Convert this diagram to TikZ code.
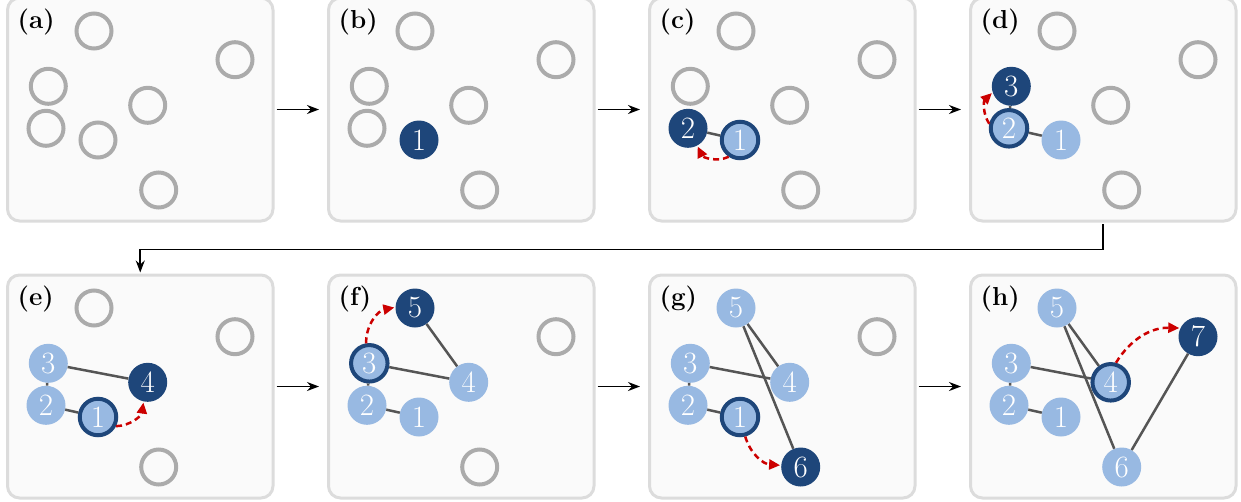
\documentclass[tikz,border=0pt]{standalone}
\usepackage{fontspec}
\usetikzlibrary{arrows.meta}
\definecolor{dkblue}{HTML}{1E467A}
\definecolor{ltblue}{HTML}{98B9E2}
\definecolor{ringgray}{HTML}{ABABAB}
\definecolor{panelfill}{HTML}{FAFAFA}
\definecolor{panelline}{HTML}{DCDCDC}
\definecolor{edgegray}{HTML}{555555}
\definecolor{redc}{HTML}{CC0000}
\def\Pone{90.5,140}
\def\Ptwo{38.5,128.3}
\def\Pthree{40.8,86.3}
\def\Pfour{140.2,105.3}
\def\Pfive{86.5,31}
\def\Psix{151.2,190}
\def\Pseven{227.5,59.7}
\newcommand\plabel[1]{\scalebox{1.3}{\fontsize{20}{20}\selectfont\bfseries #1}}
\tikzset{
  panelbox/.style={rectangle, rounded corners=12pt, fill=panelfill, draw=panelline, line width=3pt, minimum width=265.5pt, minimum height=223pt, inner sep=0pt},
  flow/.style={draw=black, line width=1.6pt, -{Stealth[length=12pt,width=9pt]}},
  lbl/.style={anchor=base west, inner sep=0pt},
  emptyc/.style={circle, draw=ringgray, line width=4pt, minimum size=35pt, inner sep=0pt},
  numfont/.style={font=\rmfamily\fontsize{31}{31}\selectfont, text=white, inner sep=0pt},
  curc/.style={circle, fill=dkblue, minimum size=39pt, numfont},
  visc/.style={circle, fill=ltblue, minimum size=39pt, numfont},
  ringc/.style={circle, fill=ltblue, draw=dkblue, line width=4pt, minimum size=36.5pt, numfont},
  edgeln/.style={draw=edgegray, line width=2.5pt},
  redarr/.style={draw=redc, line width=2.5pt, dash pattern=on 6pt off 4pt, -{Triangle[length=11pt,width=10pt]}, shorten >=1pt}
}
\begin{document}
\begin{tikzpicture}[x=1pt,y=-1pt]
\useasboundingbox (0,0) rectangle (1241,501);
% panel boxes
\node[panelbox] (A) at (140.25,109.5) {};
\node[panelbox] (B) at (461.25,109.5) {};
\node[panelbox] (C) at (782.25,109.5) {};
\node[panelbox] (D) at (1103.25,109.5) {};
\node[panelbox] (E) at (140.25,386.5) {};
\node[panelbox] (F) at (461.25,386.5) {};
\node[panelbox] (G) at (782.25,386.5) {};
\node[panelbox] (H) at (1103.25,386.5) {};
% flow arrows
\draw[flow, shorten <=2pt, shorten >=8pt] (A) -- (B);
\draw[flow, shorten <=2pt, shorten >=8pt] (B) -- (C);
\draw[flow, shorten <=2pt, shorten >=8pt] (C) -- (D);
\draw[flow, shorten <=1.5pt, shorten >=1pt] (D.south) -- ++(0,27) -| (E.north);
\draw[flow, shorten <=2pt, shorten >=8pt] (E) -- (F);
\draw[flow, shorten <=2pt, shorten >=8pt] (F) -- (G);
\draw[flow, shorten <=2pt, shorten >=8pt] (G) -- (H);

% (a)
\begin{scope}[shift={(7.5,0)}]
\node[lbl] (la) at (10,28) {\plabel{(a)}};
\node[emptyc] (a1) at (\Pone) {};
\node[emptyc] (a2) at (\Ptwo) {};
\node[emptyc] (a3) at (\Pthree) {};
\node[emptyc] (a4) at (\Pfour) {};
\node[emptyc] (a5) at (\Pfive) {};
\node[emptyc] (a6) at (\Psix) {};
\node[emptyc] (a7) at (\Pseven) {};
\end{scope}

% (b)
\begin{scope}[shift={(328.5,0)}]
\node[lbl] (lb) at (10,28) {\plabel{(b)}};
\node[curc] (b1) at (\Pone) {1};
\node[emptyc] (b2) at (\Ptwo) {};
\node[emptyc] (b3) at (\Pthree) {};
\node[emptyc] (b4) at (\Pfour) {};
\node[emptyc] (b5) at (\Pfive) {};
\node[emptyc] (b6) at (\Psix) {};
\node[emptyc] (b7) at (\Pseven) {};
\end{scope}

% (c)
\begin{scope}[shift={(649.5,0)}]
\node[lbl] (lc) at (10,28) {\plabel{(c)}};
\node[ringc] (c1) at (\Pone) {1};
\node[curc] (c2) at (\Ptwo) {2};
\node[emptyc] (c3) at (\Pthree) {};
\node[emptyc] (c4) at (\Pfour) {};
\node[emptyc] (c5) at (\Pfive) {};
\node[emptyc] (c6) at (\Psix) {};
\node[emptyc] (c7) at (\Pseven) {};
\draw[edgeln] (c1) -- (c2);
\draw[redarr] (c1.-124) to[bend left=45] (c2.-62);
\end{scope}

% (d)
\begin{scope}[shift={(970.5,0)}]
\node[lbl] (ld) at (10,28) {\plabel{(d)}};
\node[visc] (d1) at (\Pone) {1};
\node[ringc] (d2) at (\Ptwo) {2};
\node[curc] (d3) at (\Pthree) {3};
\node[emptyc] (d4) at (\Pfour) {};
\node[emptyc] (d5) at (\Pfive) {};
\node[emptyc] (d6) at (\Psix) {};
\node[emptyc] (d7) at (\Pseven) {};
\draw[edgeln] (d1) -- (d2);
\draw[edgeln] (d2) -- (d3);
\draw[redarr] (d2.167) to[bend left=40] (d3.-162);
\end{scope}

% (e)
\begin{scope}[shift={(7.5,277)}]
\node[lbl] (le) at (10,28) {\plabel{(e)}};
\node[ringc] (e1) at (\Pone) {1};
\node[visc] (e2) at (\Ptwo) {2};
\node[visc] (e3) at (\Pthree) {3};
\node[curc] (e4) at (\Pfour) {4};
\node[emptyc] (e5) at (\Pfive) {};
\node[emptyc] (e6) at (\Psix) {};
\node[emptyc] (e7) at (\Pseven) {};
\draw[edgeln] (e1) -- (e2);
\draw[edgeln] (e2) -- (e3);
\draw[edgeln] (e3) -- (e4);
\draw[redarr] (e1.-27) to[bend right=40] (e4.-102);
\end{scope}

% (f)
\begin{scope}[shift={(328.5,277)}]
\node[lbl] (lf) at (10,28) {\plabel{(f)}};
\node[visc] (f1) at (\Pone) {1};
\node[visc] (f2) at (\Ptwo) {2};
\node[ringc] (f3) at (\Pthree) {3};
\node[visc] (f4) at (\Pfour) {4};
\node[curc] (f5) at (\Pfive) {5};
\node[emptyc] (f6) at (\Psix) {};
\node[emptyc] (f7) at (\Pseven) {};
\draw[edgeln] (f1) -- (f2);
\draw[edgeln] (f2) -- (f3);
\draw[edgeln] (f3) -- (f4);
\draw[edgeln] (f4) -- (f5);
\draw[redarr] (f3.99) to[bend left=40] (f5.178);
\end{scope}

% (g)
\begin{scope}[shift={(649.5,277)}]
\node[lbl] (lg) at (10,28) {\plabel{(g)}};
\node[ringc] (g1) at (\Pone) {1};
\node[visc] (g2) at (\Ptwo) {2};
\node[visc] (g3) at (\Pthree) {3};
\node[visc] (g4) at (\Pfour) {4};
\node[visc] (g5) at (\Pfive) {5};
\node[curc] (g6) at (\Psix) {6};
\node[emptyc] (g7) at (\Pseven) {};
\draw[edgeln] (g1) -- (g2);
\draw[edgeln] (g2) -- (g3);
\draw[edgeln] (g3) -- (g4);
\draw[edgeln] (g4) -- (g5);
\draw[edgeln] (g5) -- (g6);
\draw[redarr] (g1.-75) to[bend right=35] (g6.175);
\end{scope}

% (h)
\begin{scope}[shift={(970.5,277)}]
\node[lbl] (lh) at (10,28) {\plabel{(h)}};
\node[visc] (h1) at (\Pone) {1};
\node[visc] (h2) at (\Ptwo) {2};
\node[visc] (h3) at (\Pthree) {3};
\node[ringc] (h4) at (\Pfour) {4};
\node[visc] (h5) at (\Pfive) {5};
\node[visc] (h6) at (\Psix) {6};
\node[curc] (h7) at (\Pseven) {7};
\draw[edgeln] (h1) -- (h2);
\draw[edgeln] (h2) -- (h3);
\draw[edgeln] (h3) -- (h4);
\draw[edgeln] (h4) -- (h5);
\draw[edgeln] (h5) -- (h6);
\draw[edgeln] (h6) -- (h7);
\draw[redarr] (h4.75) to[bend left=30] (h7.154);
\end{scope}
\end{tikzpicture}
\end{document}
